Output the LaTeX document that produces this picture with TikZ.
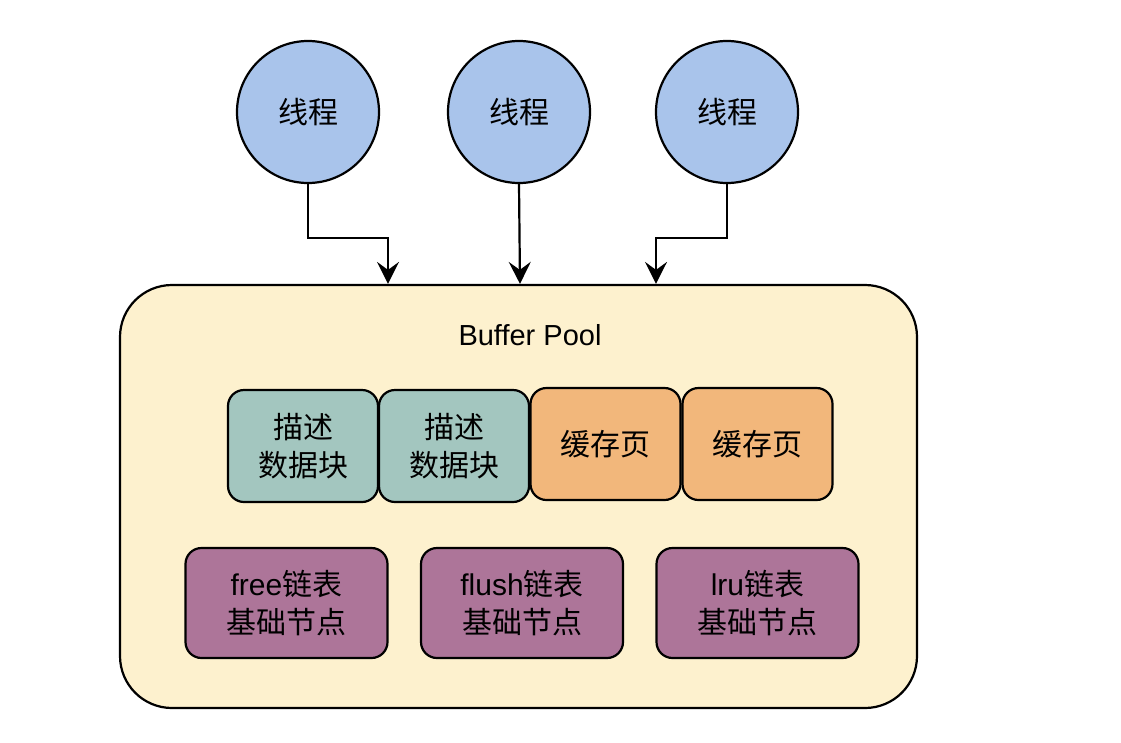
\documentclass[tikz,border=0pt]{standalone}
\usepackage{fontspec}
\setmainfont{Liberation Sans}
\newfontfamily\cjk{Noto Sans CJK SC}
\usetikzlibrary{arrows.meta}
\definecolor{circfill}{HTML}{A9C4EB}
\definecolor{poolfill}{HTML}{FDF1CE}
\definecolor{tealfill}{HTML}{A3C6BF}
\definecolor{orangefill}{HTML}{F2B77B}
\definecolor{purplefill}{HTML}{AD7599}
\tikzset{
  thread/.style={circle, draw=black, line width=2.2pt, fill=circfill, minimum size=142pt, inner sep=0pt, font=\cjk\fontsize{30}{38}\selectfont},
  pool/.style={rectangle, rounded corners=52pt, draw=black, line width=2.2pt, fill=poolfill, minimum width=797pt, minimum height=423pt, inner sep=0pt},
  cell/.style={rectangle, rounded corners=16pt, draw=black, line width=2.2pt, minimum height=112pt, inner sep=0pt, align=center, font=\fontsize{30}{38}\selectfont},
  desc/.style={cell, fill=tealfill, minimum width=150pt},
  page/.style={cell, fill=orangefill, minimum width=150pt},
  listnode/.style={cell, fill=purplefill, minimum width=202pt, minimum height=110pt},
  arr/.style={line width=2.2pt, -{Stealth[length=22pt, width=22pt, inset=8pt]}},
}
\begin{document}
\begin{tikzpicture}[x=1pt, y=-1pt]
\useasboundingbox (0,0) rectangle (1121,742);
% threads
\node[thread] (c1) at (308,112) {线程};
\node[thread] (c2) at (519,112) {线程};
\node[thread] (c3) at (727,112) {线程};
% pool
\node[pool] (pool) at (518.5,496.5) {};
\node[font=\fontsize{29}{34}\selectfont] (title) at (530,335) {Buffer Pool};
% cells
\node[desc] (d1) at (303,446) {{\cjk 描述}\\{\cjk 数据块}};
\node[desc] (d2) at (454,446) {{\cjk 描述}\\{\cjk 数据块}};
\node[page] (p1) at (605.5,444) {\cjk 缓存页};
\node[page] (p2) at (757.5,444) {\cjk 缓存页};
% lists
\node[listnode] (l1) at (286.5,603) {free{\cjk 链表}\\{\cjk 基础节点}};
\node[listnode] (l2) at (522,603) {flush{\cjk 链表}\\{\cjk 基础节点}};
\node[listnode] (l3) at (757.5,603) {lru{\cjk 链表}\\{\cjk 基础节点}};
% connectors
\coordinate (j1) at (388,238);
\coordinate (j2) at (520,238);
\coordinate (j3) at (656,238);
\draw[arr] (c1.south) |- (j1) -- (pool.north -| j1);
\draw[arr] (c2.south) -- (pool.north -| j2);
\draw[arr] (c3.south) |- (j3) -- (pool.north -| j3);
\end{tikzpicture}
\end{document}
